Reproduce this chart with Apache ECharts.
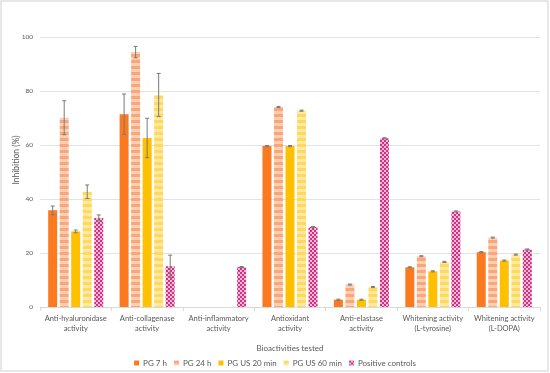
<!DOCTYPE html>
<html><head><meta charset="utf-8">
<script src="https://cdn.jsdelivr.net/npm/echarts@6/dist/echarts.min.js"></script>
<style>html,body{margin:0;padding:0;background:#fff}#c{width:550px;height:373px}</style>
</head><body><div id="c"></div>
<script>
const categories = ['Anti-hyaluronidase\nactivity','Anti-collagenase\nactivity','Anti-inflammatory\nactivity','Antioxidant\nactivity','Anti-elastase\nactivity','Whitening activity\n(L-tyrosine)','Whitening activity\n(L-DOPA)'];
const seriesNames = ['PG 7 h','PG 24 h','PG US 20 min','PG US 60 min','Positive controls'];
const pg7h   = [35.8, 71.4, 0, 59.6, 2.7, 14.7, 20.3];
const pg24h  = [70.1, 94.4, 0, 74.1, 8.3, 18.8, 25.7];
const pgus20 = [28.0, 62.6, 0, 59.6, 2.7, 13.2, 17.2];
const pgus60 = [42.7, 78.5, 0, 72.7, 7.4, 16.7, 19.4];
const posCtrl= [33.0, 15.1, 14.8, 29.6, 62.5, 35.4, 21.3];
const err7h   = [1.6, 7.5, 0, 0.2, 0.2, 0.2, 0.2];
const err24h  = [6.3, 2.1, 0, 0.2, 0.2, 0.2, 0.2];
const errus20 = [0.5, 7.3, 0, 0.2, 0.2, 0.2, 0.2];
const errus60 = [2.5, 8.0, 0, 0.2, 0.2, 0.2, 0.2];
const errPC   = [1.1, 4.1, 0.2, 0.2, 0.2, 0.2, 0.2];
const yTicks = [0, 20, 40, 60, 80, 100];

function stripes(c1, c2, h) {
  const cv = document.createElement('canvas'); cv.width = 4; cv.height = h*2;
  const g = cv.getContext('2d');
  g.fillStyle = c1; g.fillRect(0,0,4,h);
  g.fillStyle = c2; g.fillRect(0,h,4,h);
  return {image: cv, repeat: 'repeat'};
}
function hatch() {
  const cv = document.createElement('canvas'); cv.width = 4; cv.height = 4;
  const g = cv.getContext('2d');
  g.fillStyle = '#f3bcd5'; g.fillRect(0,0,4,4);
  g.fillStyle = '#d42f84';
  g.fillRect(0,0,2,2); g.fillRect(2,2,2,2);
  return {image: cv, repeat: 'repeat'};
}
const colors = ['#fb7a20', stripes('#fba679','#fdd0b5',3), '#ffc000', stripes('#ffd95e','#ffeaa0',3), hatch()];
const values = [pg7h, pg24h, pgus20, pgus60, posCtrl];
const errs = [err7h, err24h, errus20, errus60, errPC];
const FONT = 'Lato';

const chart = echarts.init(document.getElementById('c'));
const barSeries = seriesNames.map((n,i)=>({
  name: n, type: 'bar', data: values[i], barWidth: 9, barGap: '28%',
  itemStyle: {color: colors[i]}
}));
const errSeries = seriesNames.map((n,i)=>({
  type: 'custom', name: n, silent: true,
  data: values[i].map((v,k)=>[k, v, errs[i][k]]).filter(d=>d[1]>0),
  z: 10,
  renderItem: function(params, api){
    const k = api.value(0), v = api.value(1), e = api.value(2);
    const base = api.coord([k, 0]);
    const off = (i - 2) * (9 + 2.52);
    const x = base[0] + off;
    const top = api.coord([k, v + e])[1];
    const bot = api.coord([k, v - e])[1];
    const st = {stroke: '#7a7a7a', lineWidth: 1};
    return {type: 'group', children: [
      {type:'line', shape:{x1:x,y1:top,x2:x,y2:bot}, style: st},
      {type:'line', shape:{x1:x-2,y1:top,x2:x+2,y2:top}, style: st},
      {type:'line', shape:{x1:x-2,y1:bot,x2:x+2,y2:bot}, style: st}
    ]};
  }
}));

chart.setOption({
  animation: false,
  textStyle: {fontFamily: FONT},
  graphic: [
    {type:'rect', shape:{x:1,y:1,width:547,height:370}, style:{fill:'none', stroke:'#e0e0e0', lineWidth:1.5}},
    {type:'text', x:16, y:160, rotation: Math.PI/2, style:{text:'Inhibition (%)', fill:'#595959', font:'8.5px Lato', align:'center', verticalAlign:'middle'}}
  ],
  grid: {left: 40, right: 10, top: 37, bottom: 66},
  legend: {
    top: 354, left: 'center', itemWidth: 5, itemHeight: 5, itemGap: 7,
    icon: 'rect',
    data: seriesNames,
    textStyle: {color: '#595959', fontSize: 8, fontFamily: FONT, padding: [0,0,0,-1]}
  },
  xAxis: {
    type: 'category', data: categories,
    name: 'Bioactivities tested', nameLocation: 'middle', nameGap: 37,
    nameTextStyle: {color: '#595959', fontSize: 8, fontFamily: FONT},
    axisLine: {lineStyle: {color: '#d9d9d9'}},
    axisTick: {show: true, length: 4, lineStyle: {color: '#d9d9d9'}},
    axisLabel: {color: '#595959', fontSize: 7.5, lineHeight: 9.5, interval: 0, margin: 7, fontFamily: FONT}
  },
  yAxis: {
    type: 'value', min: 0, max: 100, interval: 20,
    axisLabel: {color: '#595959', fontSize: 6.5, margin: 7, fontFamily: FONT},
    splitLine: {lineStyle: {color: '#e3e3e3', width: 1}},
    axisLine: {show: false}, axisTick: {show: false}
  },
  series: barSeries.concat(errSeries)
});
</script></body></html>
